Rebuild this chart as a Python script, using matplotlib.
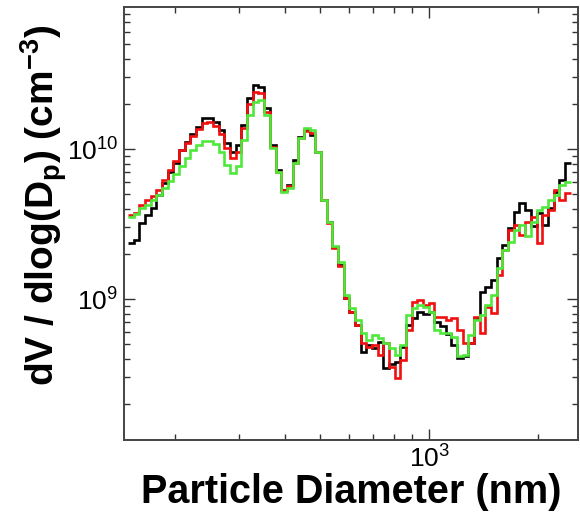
import matplotlib
matplotlib.use("Agg")
import matplotlib.pyplot as plt
import matplotlib.ticker as mticker
import numpy as np

plt.rcParams["font.family"] = ["Liberation Sans", "DejaVu Sans"]
plt.rcParams["mathtext.fontset"] = "custom"
plt.rcParams["mathtext.rm"] = "Liberation Sans"
plt.rcParams["mathtext.bf"] = "Liberation Sans:bold"

# instrument channels: 64 per decade, 148 nm .. 2453 nm (78 channels)
n_channels = 78
dp_edges = np.logspace(np.log10(148.2), np.log10(2453.0), n_channels + 1)

# dV/dlogDp in units of 1e9 cm^-3, read per channel
black_1e9 = [
    2.36, 2.47, 3.21, 3.63, 4.04, 4.94, 5.93, 7.03, 8.07, 9.85,
    11.1, 12.6, 14.0, 16.1, 16.1, 15.1, 13.4, 11.0, 9.55, 10.6,
    14.5, 21.9, 26.7, 25.9, 18.8, 10.6, 7.24, 5.33, 5.75, 8.45,
    12.0, 13.4, 12.4, 9.55, 4.57, 3.26, 2.22, 1.68, 1.02, 0.819,
    0.671, 0.443, 0.494, 0.471, 0.517, 0.347, 0.369, 0.380, 0.479, 0.671,
    0.747, 0.819, 0.794, 0.819, 0.703, 0.661, 0.584, 0.494, 0.404, 0.417,
    0.509, 0.747, 1.11, 1.20, 1.34, 1.88, 2.29, 2.97, 3.80, 4.37,
    3.92, 3.07, 3.74, 3.11, 4.04, 5.17, 6.21, 8.07,
]
red_1e9 = [
    3.63, 3.74, 4.23, 4.57, 4.86, 5.33, 6.21, 7.24, 8.32, 9.85,
    11.0, 12.2, 13.6, 14.9, 15.1, 14.2, 12.6, 10.2, 8.71, 9.55,
    13.8, 20.0, 24.0, 23.6, 17.6, 10.3, 7.03, 5.33, 5.67, 8.07,
    11.8, 13.2, 12.8, 9.55, 4.57, 3.21, 2.19, 1.66, 1.02, 0.819,
    0.671, 0.509, 0.479, 0.494, 0.423, 0.509, 0.352, 0.297, 0.392, 0.621,
    0.955, 0.985, 0.912, 0.940, 0.759, 0.759, 0.724, 0.747, 0.621, 0.509,
    0.509, 0.759, 0.593, 0.885, 0.807, 1.45, 2.12, 2.88, 3.11, 2.67,
    3.26, 3.52, 2.36, 3.63, 3.92, 5.33, 4.57, 5.09,
]
green_1e9 = [
    3.52, 3.69, 4.04, 4.23, 4.57, 4.94, 5.50, 6.12, 6.81, 7.70,
    8.71, 9.85, 10.6, 11.3, 11.3, 10.8, 9.55, 7.82, 6.92, 7.70,
    11.5, 16.9, 20.6, 21.2, 16.9, 10.2, 7.03, 5.17, 5.50, 8.07,
    11.8, 13.8, 13.4, 9.55, 4.57, 3.26, 2.26, 1.76, 1.06, 0.871,
    0.724, 0.593, 0.533, 0.575, 0.550, 0.509, 0.471, 0.423, 0.494, 0.782,
    0.871, 0.912, 0.885, 0.819, 0.621, 0.593, 0.593, 0.558, 0.417, 0.423,
    0.575, 0.724, 0.782, 0.912, 1.06, 1.61, 2.12, 2.40, 2.88, 3.11,
    2.63, 3.26, 3.92, 4.11, 4.57, 4.94, 5.75, 6.03,
]

series = [
    (black_1e9, "black"),
    (red_1e9, "#f01010"),
    (green_1e9, "#4ee83a"),
]

fig = plt.figure(figsize=(5.8, 5.18), dpi=100)
ax = fig.add_axes([0.2138, 0.1506, 0.7828, 0.8359])

for vals, color in series:
    ax.stairs(np.array(vals) * 1e9, dp_edges, baseline=None, color=color, lw=1.9)

ax.set_xscale("log")
ax.set_yscale("log")
ax.set_xlim(144.5, 2572)
ax.set_ylim(10 ** 8.06, 10 ** 10.947)

ax.xaxis.set_major_locator(mticker.LogLocator(base=10, numticks=10))
ax.xaxis.set_minor_locator(mticker.LogLocator(base=10, subs=np.arange(2, 10), numticks=20))
ax.xaxis.set_minor_formatter(mticker.NullFormatter())
ax.yaxis.set_minor_formatter(mticker.NullFormatter())

ax.tick_params(which="both", direction="in", top=True, right=True,
               color="#333333", width=1.0)
ax.tick_params(which="major", length=8, labelsize=19, pad=4)
ax.tick_params(which="minor", length=4)
for sp in ax.spines.values():
    sp.set_linewidth(1.4)
    sp.set_color("#444444")

ax.set_xlabel("Particle Diameter (nm)", fontsize=28.5, fontweight="bold", labelpad=0)
ax.set_ylabel(r"dV / dlog(D$_\mathbf{p}$) (cm$^\mathbf{-3}$)",
              fontsize=28, fontweight="bold")
ax.yaxis.set_label_coords(-0.122, 0.543)

fig.savefig("out.png", dpi=100)
